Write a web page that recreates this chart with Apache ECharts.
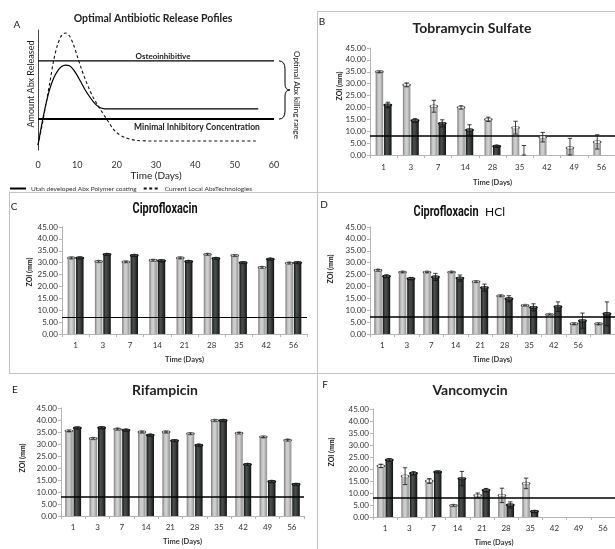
<!DOCTYPE html>
<html><head><meta charset="utf-8">
<script src="https://cdn.jsdelivr.net/npm/echarts@6/dist/echarts.min.js"></script>
<style>html,body{margin:0;padding:0;background:#fff}#c{width:615px;height:549px}</style>
</head><body><div id="c"></div>
<script>
// ---------- Panel A : release profiles ----------
const releaseDays   = [0,1,2,3,4,5,6,7,8,9,10,11,12,13,14,15,16,17,18,19,20,22,25,30,40,50,56];
const utahRelease   = [4,22,38,51,60,66,69.5,70.8,70.2,67,62,56,50,45,40.5,37,35,34.3,34.2,34.2,34.2,34.2,34.2,34.2,34.2,34.2,34.2];
const currentRelease= [4,20,38,56,75,88,95.5,97.5,95,88,78,68,59,51,44,38.5,33,28,23,18,14.5,10.5,8,7.5,7.5,7.5,7.5];
const osteoLevel = 74.2;
const micLevel = 25.8;
const timeRangeA = [0, 60];
const timeStepA = 10;

// ---------- Panel B : Tobramycin Sulfate ----------
const tobraDays     = ['1','3','7','14','28','35','42','49','56'];
const tobraLight    = [35, 29.5, 20.5, 20, 15, 11.5, 7.5, 3, 5.5];
const tobraLightErr = [0.3, 0.8, 2.5, 0.7, 0.9, 2.7, 2, 4, 3];
const tobraDark     = [21, 14.5, 13.3, 10.5, 3.7, 0, null, null, null];
const tobraDarkErr  = [1.2, 0.8, 1.5, 2.2, 0.2, 4, null, null, null];
const tobraMIC = 8.3;

// ---------- Panel C : Ciprofloxacin ----------
const ciproDays     = ['1','3','7','14','21','28','35','42','56'];
const ciproLight    = [32, 30.5, 30.3, 31, 32, 33.5, 33, 28, 29.8];
const ciproLightErr = [0.3,0.3,0.3,0.3,0.3,0.3,0.3,0.3,0.3];
const ciproDark     = [32, 33.5, 33, 30.8, 30.5, 31.8, 30, 31.5, 30];
const ciproDarkErr  = [0.3,0.3,0.3,0.3,0.3,0.3,0.3,0.3,0.3];
const ciproMIC = 7.2;

// ---------- Panel D : Ciprofloxacin HCl ----------
const cipHclDays     = ['1','3','7','14','21','28','35','42','56',''];
const cipHclLight    = [26.8, 26, 26, 26, 22, 16, 12, 8.2, 4.3, 4.3];
const cipHclLightErr = [0.3,0.2,0.2,0.2,0.3,0.3,0.2,0.2,0.3,0.3];
const cipHclDark     = [24.3, 23.3, 24, 23.5, 19.5, 14.8, 11.2, 11.5, 5.6, 8.5];
const cipHclDarkErr  = [0.5, 0.5, 1.5, 1.3, 1.5, 1.3, 1.5, 2, 3.2, 5];
const cipHclMIC = 7.3;

// ---------- Panel E : Rifampicin ----------
const rifDays     = ['1','3','7','14','21','28','35','42','49','56'];
const rifLight    = [35.5, 32.3, 36.2, 35, 35, 34.3, 39.8, 34.5, 33, 31.6];
const rifLightErr = [0.3,0.3,0.3,0.3,0.3,0.3,0.3,0.3,0.3,0.3];
const rifDark     = [36.7, 36.8, 35.8, 33.7, 31.4, 29.5, 39.8, 21.5, 14.4, 13.2];
const rifDarkErr  = [0.3,0.3,0.3,0.3,0.3,0.3,0.3,0.3,0.3,0.3];
const rifMIC = 7.9;

// ---------- Panel F : Vancomycin ----------
const vancoDays     = ['1','3','7','14','21','28','35','42','49','56'];
const vancoLight    = [21.3, 17, 15, 4.8, 9, 9, 14, null, null, null];
const vancoLightErr = [0.7, 3.5, 1, 0.3, 1, 3, 2.2, null, null, null];
const vancoDark     = [23.8, 18.2, 18.8, 16, 11.2, 5, 2.3, null, null, null];
const vancoDarkErr  = [0.5, 0.7, 0.3, 3, 0.7, 1.3, 0.4, null, null, null];
const vancoMIC = 8.1;

const zoiMin = 0, zoiMax = 45, zoiStep = 5;

const FONT = 'Lato, "Open Sans", sans-serif';
const HEAVY = 'Roboto, "Liberation Sans", sans-serif';

const panels = [
  {grid:{left:370, top:48,  width:245, height:107}, cats:tobraDays, light:tobraLight, lightErr:tobraLightErr, dark:tobraDark, darkErr:tobraDarkErr, mic:tobraMIC, micW:1.6, lblMargin:8, nameGap:24},
  {grid:{left:62,  top:227, width:245, height:107}, cats:ciproDays, light:ciproLight, lightErr:ciproLightErr, dark:ciproDark, darkErr:ciproDarkErr, mic:ciproMIC, micW:1, lblMargin:7, nameGap:22},
  {grid:{left:370, top:227, width:245, height:107}, cats:cipHclDays, light:cipHclLight, lightErr:cipHclLightErr, dark:cipHclDark, darkErr:cipHclDarkErr, mic:cipHclMIC, micW:1.6, lblMargin:7, nameGap:22},
  {grid:{left:61,  top:408, width:243, height:108}, cats:rifDays, light:rifLight, lightErr:rifLightErr, dark:rifDark, darkErr:rifDarkErr, mic:rifMIC, micW:1.6, lblMargin:7, nameGap:22},
  {grid:{left:373, top:409, width:242, height:108}, cats:vancoDays, light:vancoLight, lightErr:vancoLightErr, dark:vancoDark, darkErr:vancoDarkErr, mic:vancoMIC, micW:1.6, lblMargin:7, nameGap:22}
];

const BAR_W = 7.5;
const lightGrad = {type:'linear', x:0, y:0, x2:1, y2:0, colorStops:[
  {offset:0, color:'#7c7c7c'},{offset:0.3, color:'#c6c6c6'},{offset:0.55, color:'#d2d2d2'},{offset:1, color:'#8e8e8e'}]};
const darkGrad = {type:'linear', x:0, y:0, x2:1, y2:0, colorStops:[
  {offset:0, color:'#121212'},{offset:0.35, color:'#4a514f'},{offset:0.6, color:'#3a403e'},{offset:1, color:'#101010'}]};

function capErrRender(offset, isLight){
  return function(params, api){
    const i = api.value(0), v = api.value(1), e = api.value(2);
    const p = api.coord([i, v]);
    const top = api.coord([i, v + e]);
    const bot = api.coord([i, Math.max(0, v - e)]);
    const x = p[0] + offset;
    const w = 2.2;
    const st = {stroke:'#111', lineWidth:0.8};
    const children = [];
    if (v > 0) {
      children.push({type:'circle', x:x, y:p[1], scaleY:0.38,
        shape:{cx:0, cy:0, r:BAR_W/2},
        style: isLight ? {fill:'#f3f3f3', stroke:'#444', lineWidth:1.2} : {fill:'#5a605e', stroke:'#0a0a0a', lineWidth:1.4}});
    }
    children.push({type:'line', shape:{x1:x, y1:top[1], x2:x, y2:bot[1]}, style:st});
    children.push({type:'line', shape:{x1:x-w, y1:top[1], x2:x+w, y2:top[1]}, style:st});
    children.push({type:'line', shape:{x1:x-w, y1:bot[1], x2:x+w, y2:bot[1]}, style:st});
    return {type:'group', children:children};
  };
}

const grids = [{left:38, top:30, width:236, height:120}];
const xAxes = [{
  gridIndex:0, type:'value', min:timeRangeA[0], max:timeRangeA[1], interval:timeStepA,
  axisLine:{show:false}, axisTick:{show:false}, splitLine:{show:false},
  axisLabel:{fontSize:9, color:'#333', margin:11, fontFamily:FONT},
  name:'Time (Days)', nameLocation:'middle', nameGap:20,
  nameTextStyle:{fontSize:10, color:'#222', fontFamily:FONT}
}];
const yAxes = [{
  gridIndex:0, type:'value', min:0, max:100,
  axisLine:{show:true, lineStyle:{color:'#444', width:1}},
  axisTick:{show:false}, axisLabel:{show:false}, splitLine:{show:false}
}];
const zip = (xs, ys) => xs.map((x, k) => [x, ys[k]]);
const series = [
  {name:'Utah developed Abx Polymer coating', type:'line', xAxisIndex:0, yAxisIndex:0,
   data:zip(releaseDays, utahRelease), smooth:0.3, symbol:'none', lineStyle:{color:'#000', width:1.2}, itemStyle:{color:'#000'}},
  {name:'Current Local AbxTechnologies', type:'line', xAxisIndex:0, yAxisIndex:0,
   data:zip(releaseDays, currentRelease), smooth:0.3, symbol:'none', lineStyle:{color:'#111', width:1.1, type:[3,2.5]}, itemStyle:{color:'#111'}},
  {type:'line', xAxisIndex:0, yAxisIndex:0, data:[[timeRangeA[0], osteoLevel],[timeRangeA[1], osteoLevel]],
   symbol:'none', silent:true, lineStyle:{color:'#000', width:1.2}},
  {type:'line', xAxisIndex:0, yAxisIndex:0, data:[[timeRangeA[0], micLevel],[timeRangeA[1], micLevel]],
   symbol:'none', silent:true, lineStyle:{color:'#000', width:2}}
];

panels.forEach((p, k) => {
  const gi = k + 1;
  grids.push(p.grid);
  xAxes.push({
    gridIndex:gi, type:'category', data:p.cats,
    axisLine:{show:true, lineStyle:{color:'#b5b5b5'}},
    axisTick:{show:true, length:3, lineStyle:{color:'#b5b5b5'}},
    axisLabel:{interval:0, fontSize:8, color:'#333', margin:p.lblMargin, fontFamily:FONT},
    name:'Time (Days)', nameLocation:'middle', nameGap:p.nameGap,
    nameTextStyle:{fontSize:7.5, fontWeight:'bold', color:'#333', fontFamily:FONT}
  });
  yAxes.push({
    gridIndex:gi, type:'value', min:zoiMin, max:zoiMax, interval:zoiStep,
    axisLine:{show:true, lineStyle:{color:'#b5b5b5'}},
    axisTick:{show:true, length:3, lineStyle:{color:'#b5b5b5'}},
    splitLine:{show:false},
    axisLabel:{fontSize:8, color:'#333', margin:4, fontFamily:FONT, formatter:v => v.toFixed(2)}
  });
  series.push({
    type:'bar', xAxisIndex:gi, yAxisIndex:gi, data:p.light, barWidth:BAR_W, barGap:'12%',
    itemStyle:{color:lightGrad}, silent:true,
    markLine:{silent:true, symbol:'none', label:{show:false},
      lineStyle:{color:'#000', width:p.micW, type:'solid'}, data:[{yAxis:p.mic}]}
  });
  series.push({
    type:'bar', xAxisIndex:gi, yAxisIndex:gi, data:p.dark, barWidth:BAR_W, barGap:'12%',
    itemStyle:{color:darkGrad}, silent:true
  });
  const off = BAR_W/2 + BAR_W*0.06;
  series.push({
    type:'custom', xAxisIndex:gi, yAxisIndex:gi, z:5, silent:true,
    renderItem:capErrRender(-off, true), encode:{x:0, y:1},
    data:p.light.map((v, i) => v == null ? null : [i, v, p.lightErr[i] || 0]).filter(d => d)
  });
  series.push({
    type:'custom', xAxisIndex:gi, yAxisIndex:gi, z:5, silent:true,
    renderItem:capErrRender(off, false), encode:{x:0, y:1},
    data:p.dark.map((v, i) => v == null ? null : [i, v, p.darkErr[i] || 0]).filter(d => d)
  });
});

function txt(x, y, text, o){
  o = o || {};
  return {type:'text', x:x, y:y, rotation:o.rot || 0, scaleX:o.sx || 1, silent:true, z:10,
    style:Object.assign({text:text, fill:o.color || '#222', fontSize:o.size || 10,
      fontWeight:o.weight || 'normal', fontFamily:o.family || FONT,
      align:o.align || 'center', verticalAlign:'middle'}, o.extra || {})};
}
function hline(x1, y, x2){ return {type:'line', silent:true, z:0, shape:{x1:x1, y1:y, x2:x2, y2:y}, style:{stroke:'#c4c4c4', lineWidth:1}}; }
function vline(x, y1, y2){ return {type:'line', silent:true, z:0, shape:{x1:x, y1:y1, x2:x, y2:y2}, style:{stroke:'#c4c4c4', lineWidth:1}}; }

const graphics = [
  hline(317, 11.5, 615), vline(317.5, 11, 549), hline(9, 192.5, 615), vline(9.5, 192, 373), hline(9, 373.5, 615),
  txt(153, 19, 'Optimal Antibiotic Release Pofiles', {size:10.5, weight:'bold'}),
  txt(17, 25, 'A', {size:10}),
  txt(163, 56, 'Osteoinhibitive', {size:8, weight:'bold'}),
  txt(197, 127, 'Minimal Inhibitory Concentration', {size:8.5, weight:'bold'}),
  txt(31, 84, 'Amount Abx Released', {size:9, rot:Math.PI/2}),
  txt(297, 95, 'Optimal Abx killing range', {size:8, rot:-Math.PI/2}),
  txt(322, 22, 'B', {size:10}),
  txt(472, 28, 'Tobramycin Sulfate', {size:14, weight:'bold'}),
  txt(14, 207, 'C', {size:10}),
  txt(165, 209, 'Ciprofloxacin', {size:14, weight:'bold', family:HEAVY, sx:0.78, color:'#111'}),
  txt(324, 205, 'D', {size:10}),
  txt(446, 212, 'Ciprofloxacin', {size:14, weight:'bold', family:HEAVY, sx:0.78, color:'#111'}),
  txt(495, 212, 'HCl', {size:12, color:'#111'}),
  txt(15, 390, 'E', {size:10}),
  txt(165, 390, 'Rifampicin', {size:14, weight:'bold'}),
  txt(325, 385, 'F', {size:10}),
  txt(470, 390, 'Vancomycin', {size:14, weight:'bold'}),
  txt(340, 86, 'ZOI (mm)', {size:7, weight:'bold', rot:Math.PI/2}),
  txt(30, 272, 'ZOI (mm)', {size:7, weight:'bold', rot:Math.PI/2}),
  txt(331, 269, 'ZOI (mm)', {size:7, weight:'bold', rot:Math.PI/2}),
  txt(23, 458, 'ZOI (mm)', {size:7, weight:'bold', rot:Math.PI/2}),
  txt(332, 452, 'ZOI (mm)', {size:7, weight:'bold', rot:Math.PI/2})
];

const chart = echarts.init(document.getElementById('c'), null, {renderer:'canvas'});
chart.setOption({
  animation:false,
  backgroundColor:'#fff',
  legend:{left:4, top:180, itemWidth:16, itemHeight:6, itemGap:6,
    itemStyle:{opacity:0},
    data:['Utah developed Abx Polymer coating','Current Local AbxTechnologies'],
    textStyle:{fontSize:6.5, color:'#333', fontFamily:FONT}},
  grid:grids, xAxis:xAxes, yAxis:yAxes, series:series, graphic:graphics
});

// brace spanning the optimal killing range
const pTop = chart.convertToPixel({xAxisIndex:0, yAxisIndex:0}, [timeRangeA[1], osteoLevel]);
const pBot = chart.convertToPixel({xAxisIndex:0, yAxisIndex:0}, [timeRangeA[1], micLevel]);
const bx = pTop[0] + 5, t = pTop[1], b = pBot[1], m = (t + b) / 2;
const bs = {stroke:'#000', lineWidth:1, fill:null};
graphics.push(
  {type:'bezierCurve', silent:true, z:10, shape:{x1:bx, y1:t, cpx1:bx+6, cpy1:t, x2:bx+6, y2:t+8}, style:bs},
  {type:'line', silent:true, z:10, shape:{x1:bx+6, y1:t+8, x2:bx+6, y2:m-6}, style:bs},
  {type:'bezierCurve', silent:true, z:10, shape:{x1:bx+6, y1:m-6, cpx1:bx+6, cpy1:m, x2:bx+11, y2:m}, style:bs},
  {type:'bezierCurve', silent:true, z:10, shape:{x1:bx+11, y1:m, cpx1:bx+6, cpy1:m, x2:bx+6, y2:m+6}, style:bs},
  {type:'line', silent:true, z:10, shape:{x1:bx+6, y1:m+6, x2:bx+6, y2:b-8}, style:bs},
  {type:'bezierCurve', silent:true, z:10, shape:{x1:bx+6, y1:b-8, cpx1:bx+6, cpy1:b, x2:bx, y2:b}, style:bs}
);
chart.setOption({graphic:graphics});
</script></body></html>
